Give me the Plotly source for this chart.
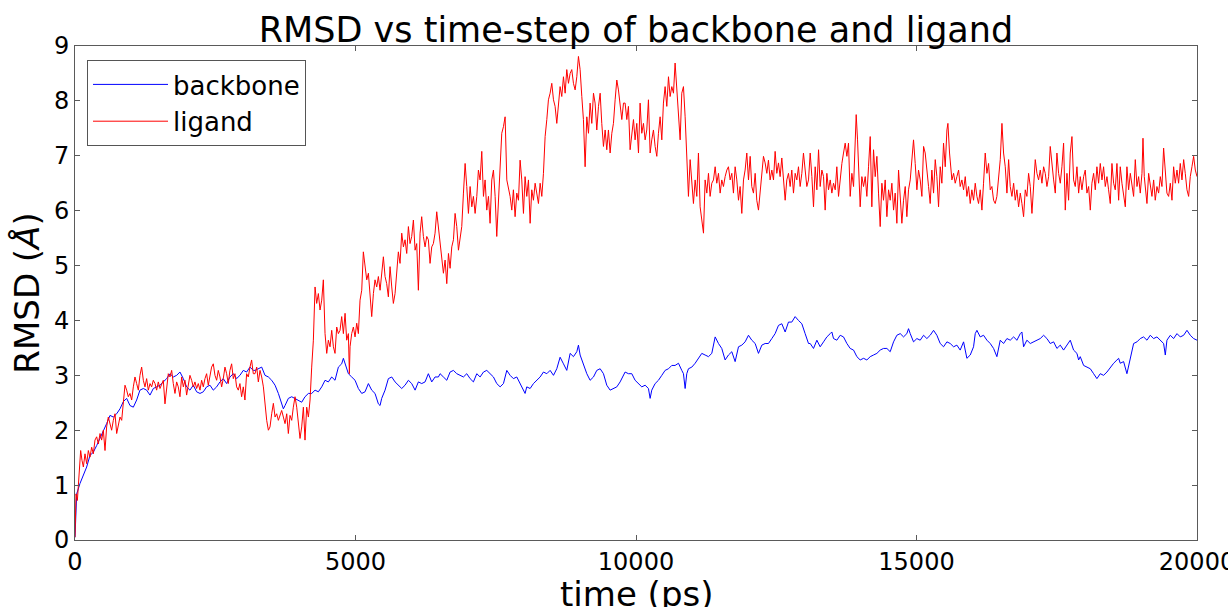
import plotly.graph_objects as go

# ---------------- data ----------------
backbone_time = [
    0, 18, 30, 89, 149, 208, 267, 327, 386, 446, 505, 564, 624, 683, 743, 802, 861, 921, 980, 1040,
    1099, 1158, 1218, 1277, 1337, 1396, 1455, 1515, 1574, 1634, 1693, 1752, 1812, 1871, 1931, 1990, 2049, 2109, 2168, 2228,
    2287, 2346, 2406, 2465, 2525, 2584, 2643, 2703, 2762, 2822, 2881, 2940, 3000, 3059, 3119, 3178,
    3209, 3268, 3328, 3387, 3447, 3506, 3566, 3625, 3684, 3714, 3744, 3803, 3863, 3922, 3982, 4041, 4100, 4160, 4219, 4279,
    4338, 4398, 4457, 4516, 4576, 4635, 4695, 4754, 4784, 4814, 4873, 4932, 4992, 5051, 5111, 5170, 5230, 5289, 5348, 5408,
    5438, 5467, 5527, 5586, 5646, 5705, 5764, 5824, 5883, 5943, 6002, 6062, 6121, 6180, 6240, 6299, 6359, 6418, 6478,
    6508, 6567, 6627, 6686, 6746, 6805, 6865, 6924, 6983, 7043, 7102, 7162, 7221, 7281, 7340, 7399, 7459, 7518, 7578, 7637,
    7697, 7756, 7815, 7875, 7934, 7994, 8023, 8053, 8113, 8172, 8231, 8291, 8350, 8410, 8469, 8529, 8588, 8647, 8707, 8766,
    8826, 8885, 8945, 8974, 9004, 9063, 9123, 9182, 9242, 9301, 9361, 9420, 9479, 9539, 9598, 9658, 9717, 9777,
    9806, 9865, 9925, 9984, 10044, 10103, 10163, 10222, 10252, 10281, 10341, 10400, 10460, 10519, 10579, 10638, 10697, 10757, 10816, 10846,
    10876, 10905, 10935, 10995, 11054, 11113, 11173, 11232, 11292, 11351, 11411, 11470, 11529, 11589, 11648, 11708, 11767, 11827, 11886, 11945,
    12005, 12064, 12124, 12183, 12243, 12302, 12361, 12421, 12480, 12540, 12599, 12659, 12718, 12777, 12837, 12896, 12956, 13015, 13075,
    13105, 13164, 13224, 13283, 13343, 13402, 13462, 13491, 13521, 13580, 13640, 13699, 13759, 13818, 13878, 13937, 13996, 14056, 14115, 14175,
    14234, 14294, 14353, 14412, 14472, 14531, 14591, 14650, 14710, 14769, 14828, 14858, 14888, 14947, 15007, 15066, 15126, 15185, 15244, 15304,
    15363, 15423, 15482, 15542, 15601, 15661, 15720, 15779, 15839, 15898, 15958, 16017, 16047, 16077, 16136, 16195, 16255, 16314, 16374, 16433,
    16493, 16552, 16612, 16671, 16731, 16790, 16850, 16879, 16909, 16968, 17028, 17087, 17147, 17206, 17266, 17325, 17384, 17444, 17503, 17563,
    17622, 17682, 17741, 17800, 17860, 17890, 17919, 17979, 18038, 18098, 18157, 18216, 18276, 18335, 18395, 18454, 18514, 18573, 18603, 18632,
    18692, 18751, 18811, 18870, 18930, 18989, 19048, 19108, 19167, 19227, 19286, 19346, 19405, 19435, 19464, 19524, 19583, 19643, 19702, 19762,
    19821, 19880, 19940, 20000,
]
backbone_rmsd = [
    0.05, 0.72, 0.84, 1.03, 1.18, 1.33, 1.54, 1.60, 1.72, 1.85, 2.00, 2.12, 2.27, 2.24, 2.30, 2.39, 2.52, 2.58, 2.45, 2.42,
    2.55, 2.73, 2.76, 2.73, 2.64, 2.76, 2.79, 2.82, 2.88, 2.94, 3.03, 2.97, 3.00, 3.06, 2.94, 2.79, 2.73, 2.82, 2.70, 2.67,
    2.70, 2.79, 2.82, 2.73, 2.79, 2.88, 2.94, 2.85, 2.97, 3.03, 2.94, 3.00, 3.09, 3.06, 3.15, 3.09,
    3.09, 3.12, 3.15, 3.00, 2.97, 2.91, 2.82, 2.67, 2.48, 2.39, 2.45, 2.58, 2.61, 2.58, 2.55, 2.51, 2.61, 2.67, 2.67, 2.73,
    2.70, 2.79, 2.91, 2.88, 2.97, 2.91, 3.15, 3.21, 3.31, 3.21, 3.03, 2.97, 2.91, 2.76, 2.67, 2.70, 2.85, 2.73, 2.67, 2.48,
    2.45, 2.58, 2.73, 2.94, 2.97, 2.88, 2.82, 2.76, 2.82, 2.91, 2.85, 2.73, 2.88, 2.85, 2.88, 3.03, 2.88, 2.97, 2.97,
    3.03, 2.97, 2.91, 3.06, 3.09, 3.03, 3.00, 2.97, 3.03, 2.94, 2.88, 3.03, 2.97, 3.06, 3.09, 3.03, 2.97, 2.85, 2.79, 2.85,
    3.09, 3.00, 2.94, 2.97, 2.85, 2.73, 2.67, 2.79, 2.76, 2.85, 2.91, 2.97, 3.06, 3.03, 3.09, 3.00, 3.12, 3.33, 3.21, 3.09,
    3.40, 3.34, 3.43, 3.55, 3.37, 3.21, 3.03, 2.91, 2.97, 3.09, 3.12, 3.03, 2.82, 2.73, 2.76, 2.79, 2.88, 3.00,
    3.06, 3.03, 3.03, 2.91, 2.85, 2.79, 2.82, 2.76, 2.58, 2.73, 2.85, 2.91, 3.00, 3.09, 3.12, 3.18, 3.18, 3.22, 3.09, 3.03,
    2.76, 3.03, 3.12, 3.15, 3.22, 3.31, 3.40, 3.37, 3.34, 3.40, 3.70, 3.58, 3.49, 3.28, 3.37, 3.43, 3.25, 3.52, 3.55, 3.61,
    3.73, 3.64, 3.58, 3.40, 3.55, 3.58, 3.58, 3.67, 3.76, 3.91, 3.94, 3.79, 3.97, 3.97, 4.07, 4.00, 3.94, 3.76, 3.58,
    3.58, 3.49, 3.64, 3.52, 3.61, 3.70, 3.76, 3.79, 3.67, 3.64, 3.73, 3.70, 3.58, 3.49, 3.46, 3.34, 3.28, 3.31, 3.28, 3.34,
    3.37, 3.40, 3.46, 3.49, 3.49, 3.43, 3.61, 3.73, 3.76, 3.70, 3.76, 3.85, 3.76, 3.61, 3.67, 3.64, 3.73, 3.67, 3.73, 3.82,
    3.73, 3.58, 3.52, 3.61, 3.58, 3.52, 3.55, 3.46, 3.61, 3.31, 3.37, 3.52, 3.76, 3.82, 3.70, 3.73, 3.64, 3.58, 3.49, 3.34,
    3.64, 3.58, 3.67, 3.64, 3.70, 3.64, 3.76, 3.79, 3.52, 3.64, 3.58, 3.61, 3.64, 3.67, 3.73, 3.67, 3.58, 3.61, 3.49, 3.55,
    3.46, 3.55, 3.64, 3.46, 3.40, 3.28, 3.34, 3.18, 3.15, 3.12, 3.03, 2.94, 3.03, 3.00, 3.06, 3.15, 3.22, 3.28, 3.31, 3.22,
    3.25, 3.03, 3.28, 3.58, 3.61, 3.67, 3.70, 3.64, 3.73, 3.67, 3.70, 3.64, 3.58, 3.37, 3.64, 3.73, 3.67, 3.76, 3.70, 3.73,
    3.82, 3.73, 3.67, 3.64,
]

ligand_time = [
    0, 18, 42, 77, 101, 125, 149, 178, 208, 238, 267, 297, 327, 356, 386, 416, 446, 475, 505, 535,
    564, 594, 624, 653, 683, 713, 743, 772, 802, 832, 861, 891, 921, 950, 980, 1010, 1040, 1069, 1099, 1129,
    1158, 1188, 1218, 1247, 1277, 1307, 1337, 1366, 1396, 1426, 1455, 1485, 1515, 1544, 1574, 1604, 1634, 1663, 1693, 1723,
    1752, 1782, 1812, 1841, 1871, 1901, 1931, 1960, 1990, 2020, 2049, 2079, 2109, 2138, 2168, 2198, 2228, 2257, 2287, 2317,
    2346, 2376, 2406, 2435, 2465, 2495, 2525, 2554, 2584, 2614, 2643, 2673, 2703, 2732, 2762, 2792, 2822, 2851, 2881, 2911,
    2940, 2970, 3000, 3029, 3059, 3089, 3119, 3148, 3178,
    3209, 3239, 3268, 3298, 3328, 3358, 3387, 3417, 3447, 3476, 3506, 3536, 3566, 3595, 3625, 3655, 3684, 3714, 3744, 3774,
    3803, 3833, 3863, 3892, 3922, 3952, 3982, 4011, 4041, 4071, 4100, 4130, 4160, 4190, 4219, 4249, 4279, 4308, 4338, 4368,
    4398, 4427, 4457, 4487, 4516, 4546, 4576, 4606, 4635, 4665, 4695, 4724, 4754, 4784, 4814, 4843, 4873, 4891, 4903, 4932,
    4962, 4992, 5022, 5051, 5081, 5111, 5140, 5170, 5200, 5230, 5259, 5289, 5319, 5348, 5378, 5408, 5438, 5467, 5497, 5527,
    5556, 5586, 5616, 5646, 5675, 5705, 5735, 5764, 5794, 5824, 5854, 5883, 5913, 5943, 5972, 6002, 6032, 6062, 6091, 6121,
    6151, 6180, 6210, 6240, 6270, 6299, 6329, 6359, 6388, 6418, 6448, 6478,
    6508, 6538, 6567, 6597, 6627, 6657, 6686, 6716, 6746, 6775, 6805, 6835, 6865, 6894, 6924, 6954, 6983, 7013, 7043, 7073,
    7102, 7132, 7162, 7191, 7221, 7251, 7281, 7310, 7340, 7370, 7399, 7429, 7459, 7489, 7518, 7548, 7578, 7607, 7637, 7667,
    7697, 7726, 7756, 7786, 7815, 7845, 7875, 7905, 7934, 7964, 7994, 8023, 8053, 8083, 8113, 8142, 8172, 8202, 8231, 8261,
    8291, 8321, 8350, 8380, 8410, 8439, 8469, 8499, 8529, 8558, 8588, 8618, 8647, 8677, 8707, 8737, 8766, 8796, 8826, 8855,
    8885, 8915, 8945, 8974, 9004, 9034, 9063, 9093, 9123, 9153, 9182, 9212, 9242, 9271, 9301, 9331, 9361, 9390, 9420, 9450,
    9479, 9509, 9539, 9569, 9598, 9628, 9658, 9687, 9717, 9747, 9777,
    9806, 9836, 9865, 9895, 9925, 9955, 9984, 10014, 10044, 10073, 10103, 10133, 10163, 10192, 10222, 10252, 10281, 10311, 10341, 10371,
    10400, 10430, 10460, 10489, 10519, 10549, 10579, 10608, 10638, 10668, 10697, 10727, 10757, 10787, 10816, 10846, 10876, 10905, 10935, 10965,
    10995, 11024, 11054, 11084, 11113, 11143, 11173, 11203, 11232, 11262, 11292, 11321, 11351, 11381, 11411, 11440, 11470, 11500, 11529, 11559,
    11589, 11619, 11648, 11678, 11708, 11737, 11767, 11797, 11827, 11856, 11886, 11916, 11945, 11975, 12005, 12035, 12064, 12094, 12124, 12153,
    12183, 12213, 12243, 12272, 12302, 12332, 12361, 12391, 12421, 12451, 12480, 12510, 12540, 12569, 12599, 12629, 12659, 12688, 12718, 12748,
    12777, 12807, 12837, 12867, 12896, 12926, 12956, 12985, 13015, 13045, 13075,
    13105, 13135, 13164, 13194, 13224, 13254, 13283, 13313, 13343, 13372, 13402, 13432, 13462, 13491, 13521, 13551, 13580, 13610, 13640, 13670,
    13699, 13729, 13759, 13788, 13818, 13848, 13878, 13907, 13925, 13949, 13967, 13996, 14026, 14056, 14086, 14115, 14145, 14175, 14204, 14234,
    14264, 14294, 14323, 14353, 14383, 14412, 14442, 14472, 14502, 14531, 14561, 14591, 14620, 14650, 14680, 14710, 14739, 14769, 14799, 14828,
    14858, 14888, 14918, 14947, 14977, 15007, 15036, 15066, 15096, 15126, 15155, 15185, 15215, 15244, 15274, 15304, 15334, 15363, 15393, 15423,
    15452, 15482, 15512, 15542, 15560, 15589, 15601, 15631, 15661, 15690, 15720, 15750, 15779, 15809, 15839, 15869, 15898, 15928, 15958, 15987,
    16017, 16047, 16077, 16106, 16136, 16166, 16195, 16225, 16255, 16285, 16314, 16344, 16374, 16403, 16433, 16463,
    16493, 16523, 16552, 16582, 16612, 16642, 16671, 16701, 16731, 16760, 16790, 16820, 16850, 16879, 16909, 16939, 16968, 16998, 17028, 17058,
    17087, 17117, 17147, 17176, 17206, 17236, 17266, 17295, 17325, 17355, 17384, 17414, 17444, 17474, 17503, 17533, 17563, 17592, 17622, 17652,
    17682, 17711, 17741, 17771, 17800, 17830, 17860, 17890, 17919, 17949, 17979, 18008, 18038, 18068, 18098, 18127, 18157, 18187, 18216, 18246,
    18276, 18306, 18335, 18365, 18395, 18424, 18454, 18484, 18514, 18543, 18573, 18603, 18632, 18662, 18692, 18722, 18751, 18781, 18811, 18840,
    18870, 18900, 18930, 18959, 18989, 19019, 19037, 19060, 19078, 19108, 19138, 19167, 19197, 19227, 19256, 19286, 19316, 19346, 19375, 19405,
    19435, 19464, 19494, 19524, 19554, 19583, 19613, 19643, 19672, 19702, 19732, 19762, 19791, 19821, 19851, 19880, 19910, 19940, 19970, 20000,
]
ligand_rmsd = [
    0.05, 0.84, 0.72, 1.27, 1.63, 1.45, 1.33, 1.57, 1.39, 1.63, 1.51, 1.69, 1.57, 1.82, 1.88, 1.75, 1.94, 1.82, 2.00, 1.63,
    2.06, 2.24, 2.12, 2.00, 2.18, 2.30, 1.94, 2.06, 2.24, 2.18, 2.48, 2.82, 2.73, 2.61, 2.67, 2.55, 2.79, 2.97, 2.85, 2.73,
    3.00, 3.15, 2.91, 2.79, 2.94, 2.73, 2.85, 2.79, 2.91, 2.85, 2.73, 2.88, 2.76, 2.85, 2.91, 2.48, 2.73, 3.03, 2.97, 3.09,
    2.85, 2.67, 2.88, 2.79, 2.61, 2.97, 2.79, 2.91, 2.64, 2.85, 3.00, 2.91, 2.79, 2.88, 2.76, 2.85, 2.73, 2.91, 2.79, 2.94,
    3.03, 2.82, 3.00, 3.15, 3.21, 3.00, 2.91, 3.09, 2.97, 2.79, 2.94, 3.15, 3.03, 2.85, 3.09, 3.21, 2.94, 3.03, 2.79, 2.73,
    2.85, 2.61, 2.79, 2.55, 3.03, 2.97, 3.15, 3.28, 3.03,
    3.03, 3.15, 2.88, 3.09, 2.97, 2.79, 2.42, 2.18, 2.00, 2.06, 2.30, 2.49, 2.24, 2.30, 2.18, 2.27, 2.36, 2.24, 2.12, 2.30,
    1.94, 2.27, 2.18, 2.42, 2.61, 2.42, 2.18, 1.85, 2.06, 2.42, 1.82, 2.42, 2.24, 2.55, 3.15, 3.64, 4.61, 4.31, 4.49, 4.19,
    4.37, 4.74, 3.76, 3.40, 3.64, 3.52, 3.82, 3.52, 3.40, 3.88, 3.76, 3.82, 4.07, 3.76, 4.13, 3.64, 3.76, 3.03, 3.52, 3.76,
    3.88, 3.70, 3.95, 3.76, 4.37, 4.55, 5.25, 4.98, 4.74, 4.86, 4.43, 4.07, 4.49, 4.74, 4.61, 4.80, 4.55, 4.92, 5.16, 4.80,
    4.67, 4.43, 4.98, 4.61, 4.31, 4.49, 4.98, 5.25, 5.04, 5.59, 5.34, 5.47, 5.22, 5.71, 5.40, 5.53, 5.83, 5.28, 5.40, 4.55,
    5.59, 5.89, 5.53, 5.34, 5.53, 5.47, 5.04, 5.34, 5.40, 5.59, 5.98, 5.71,
    5.47, 5.22, 4.86, 5.10, 4.67, 5.22, 4.95, 5.34, 5.47, 5.95, 5.71, 5.28, 5.53, 5.71, 6.32, 6.86, 6.44, 5.95, 6.44, 6.07,
    6.26, 5.95, 6.26, 6.74, 6.56, 7.08, 6.26, 6.56, 6.01, 6.26, 5.77, 6.56, 6.74, 6.26, 5.53, 6.19, 6.56, 7.41, 7.53, 7.71,
    6.56, 6.44, 6.26, 6.01, 6.38, 5.89, 6.32, 6.19, 6.92, 6.56, 5.95, 6.62, 6.26, 6.56, 5.77, 6.38, 6.19, 6.50, 6.32, 6.13,
    6.50, 6.26, 6.68, 7.35, 7.66, 8.02, 8.14, 8.32, 8.02, 7.90, 7.59, 8.02, 8.26, 8.08, 8.44, 8.14, 8.57, 8.32, 8.50, 8.57,
    8.32, 8.20, 8.44, 8.81, 8.57, 8.08, 7.66, 6.80, 7.71, 7.41, 7.96, 7.59, 8.14, 7.96, 7.47, 7.90, 8.14, 7.59, 7.17, 7.47,
    7.11, 7.47, 7.05, 7.41, 7.59, 8.02, 8.38, 8.20, 7.90, 7.66, 7.96,
    7.96, 7.66, 7.90, 7.11, 7.41, 7.66, 7.29, 7.59, 7.05, 7.96, 7.41, 7.59, 7.29, 7.47, 8.02, 7.05, 7.29, 7.47, 7.17, 6.99,
    7.41, 7.71, 7.29, 7.96, 8.26, 7.90, 8.44, 8.08, 8.26, 8.14, 8.69, 8.20, 7.90, 7.29, 8.14, 8.26, 7.71, 7.05, 6.26, 6.93,
    6.44, 6.13, 6.56, 6.26, 7.05, 6.07, 5.83, 5.59, 6.56, 6.32, 6.68, 6.26, 6.50, 6.56, 6.80, 6.50, 6.68, 6.32, 6.56, 6.44,
    6.62, 6.74, 6.80, 6.56, 6.68, 6.32, 6.80, 6.56, 6.19, 6.44, 5.95, 6.56, 6.74, 7.05, 6.56, 6.99, 6.44, 6.32, 6.68, 6.19,
    6.01, 6.32, 6.74, 6.99, 6.87, 6.68, 6.92, 6.56, 6.74, 6.56, 7.08, 6.68, 6.87, 6.62, 6.96, 6.50, 6.19, 6.56, 6.68, 6.44,
    6.74, 6.32, 6.68, 6.56, 6.80, 6.44, 6.68, 7.05, 6.68, 6.44, 6.56,
    7.05, 6.62, 6.07, 6.80, 6.38, 7.11, 6.44, 6.74, 6.62, 6.01, 6.68, 6.38, 6.56, 6.32, 6.50, 6.38, 6.80, 6.26, 6.62, 6.86,
    7.05, 7.23, 6.99, 7.23, 6.26, 6.68, 6.44, 7.11, 7.75, 7.29, 6.68, 6.07, 6.62, 6.44, 6.62, 6.26, 6.80, 7.35, 6.07, 7.11,
    6.62, 6.99, 6.32, 5.71, 6.50, 6.19, 6.56, 5.89, 6.38, 6.19, 6.50, 6.01, 6.32, 5.77, 6.74, 6.26, 5.77, 6.19, 6.44, 5.89,
    6.38, 6.56, 6.93, 7.29, 6.86, 6.38, 6.74, 6.56, 6.26, 7.17, 7.05, 6.80, 6.44, 6.13, 6.74, 6.32, 6.93, 6.62, 6.07, 6.80,
    6.50, 7.23, 6.80, 7.47, 7.59, 7.05, 6.86, 6.56, 6.68, 6.50, 6.62, 6.74, 6.44, 6.56, 6.38, 6.62, 6.26, 6.44, 6.13, 6.38,
    6.19, 6.50, 6.26, 6.13, 6.38, 6.01, 6.50, 7.05, 6.68, 6.86, 6.38, 6.44, 6.19, 6.13, 6.26, 6.62,
    6.93, 7.59, 7.05, 6.80, 6.32, 6.93, 6.44, 6.26, 6.50, 6.19, 6.38, 6.07, 6.32, 6.13, 5.89, 6.38, 6.26, 6.68, 6.44, 5.95,
    6.50, 6.93, 6.68, 6.56, 6.74, 6.50, 6.80, 6.68, 6.44, 6.62, 7.17, 6.80, 6.56, 6.32, 7.05, 6.68, 6.50, 6.80, 7.23, 6.01,
    6.68, 6.19, 7.05, 7.35, 6.56, 6.44, 6.80, 6.32, 6.62, 6.38, 6.62, 6.74, 6.32, 6.44, 6.01, 6.50, 6.68, 6.38, 6.80, 6.50,
    6.86, 6.56, 6.80, 6.44, 6.62, 6.38, 6.13, 6.86, 6.50, 6.38, 6.86, 6.19, 6.80, 6.50, 6.32, 6.07, 6.80, 6.38, 6.68, 6.50,
    6.26, 6.93, 6.44, 6.62, 6.32, 6.68, 7.32, 6.62, 6.44, 6.13, 6.68, 6.50, 6.26, 6.56, 6.19, 6.44, 6.32, 6.62, 6.44, 7.14,
    6.62, 6.32, 6.26, 6.50, 6.19, 6.80, 6.50, 6.74, 6.50, 6.86, 6.56, 6.93, 6.68, 6.38, 6.26, 6.62, 6.80, 6.99, 6.74, 6.62,
]

x_ticks = [0, 5000, 10000, 15000, 20000]
x_tick_labels = ["0", "5000", "10000", "15000", "20000"]
y_ticks = [0, 1, 2, 3, 4, 5, 6, 7, 8, 9]

assert len(backbone_time) == len(backbone_rmsd), (len(backbone_time), len(backbone_rmsd))
assert len(ligand_time) == len(ligand_rmsd), (len(ligand_time), len(ligand_rmsd))

# ---------------- figure ----------------
FONT = "DejaVu Sans"
AXIS_COLOR = "#5a5a5a"
PLOT_H = 607 - 46 - 67  # plot-area height in px

fig = go.Figure()
fig.add_trace(go.Scatter(
    x=backbone_time, y=backbone_rmsd, mode="lines", name="backbone",
    legendgroup="backbone", line=dict(color="#0000ff", width=1),
))
fig.add_trace(go.Scatter(
    x=ligand_time, y=ligand_rmsd, mode="lines", name="ligand",
    legendgroup="ligand", line=dict(color="#ff0000", width=1),
))

axis_common = dict(
    showgrid=False, zeroline=False, showline=True, linecolor=AXIS_COLOR, linewidth=1,
    mirror="ticks", ticks="inside", ticklen=5, tickwidth=1, tickcolor=AXIS_COLOR,
    tickfont=dict(family=FONT, size=24, color="#000000"),
)

fig.update_layout(
    width=1228, height=607,
    margin=dict(l=75, r=31, t=46, b=67, autoexpand=False),
    paper_bgcolor="white", plot_bgcolor="white",
    font=dict(family=FONT, color="#000000"),
    title=dict(
        text="RMSD vs time-step of backbone and ligand",
        font=dict(family=FONT, size=35, color="#000000"),
        x=0.5, xref="paper", xanchor="center",
        y=1 - 30 / 607, yref="container", yanchor="middle",
    ),
    xaxis=dict(
        range=[0, 20000], tickvals=x_ticks, ticktext=x_tick_labels,
        ticklabeloverflow="allow", automargin=False,
        **axis_common,
    ),
    yaxis=dict(
        range=[0, 9], tickvals=y_ticks, automargin=False,
        title=dict(text="RMSD (<i>Å</i>)", font=dict(family=FONT, size=34, color="#000000"), standoff=4),
        **axis_common,
    ),
    annotations=[dict(
        text="time (ps)", xref="paper", yref="paper",
        x=0.5, xanchor="center", y=-54 / PLOT_H, yanchor="middle",
        showarrow=False, font=dict(family=FONT, size=34, color="#000000"),
    )],
    showlegend=True,
    legend=dict(
        x=12 / 1122, y=1 - 14 / PLOT_H, xanchor="left", yanchor="top",
        bgcolor="white", bordercolor="#555555", borderwidth=1,
        font=dict(family=FONT, size=26, color="#000000"),
        itemwidth=75, tracegroupgap=4, traceorder="normal",
    ),
)

fig.write_html("out.html", config={"displayModeBar": False},
               post_script="document.body.style.margin='0';")
